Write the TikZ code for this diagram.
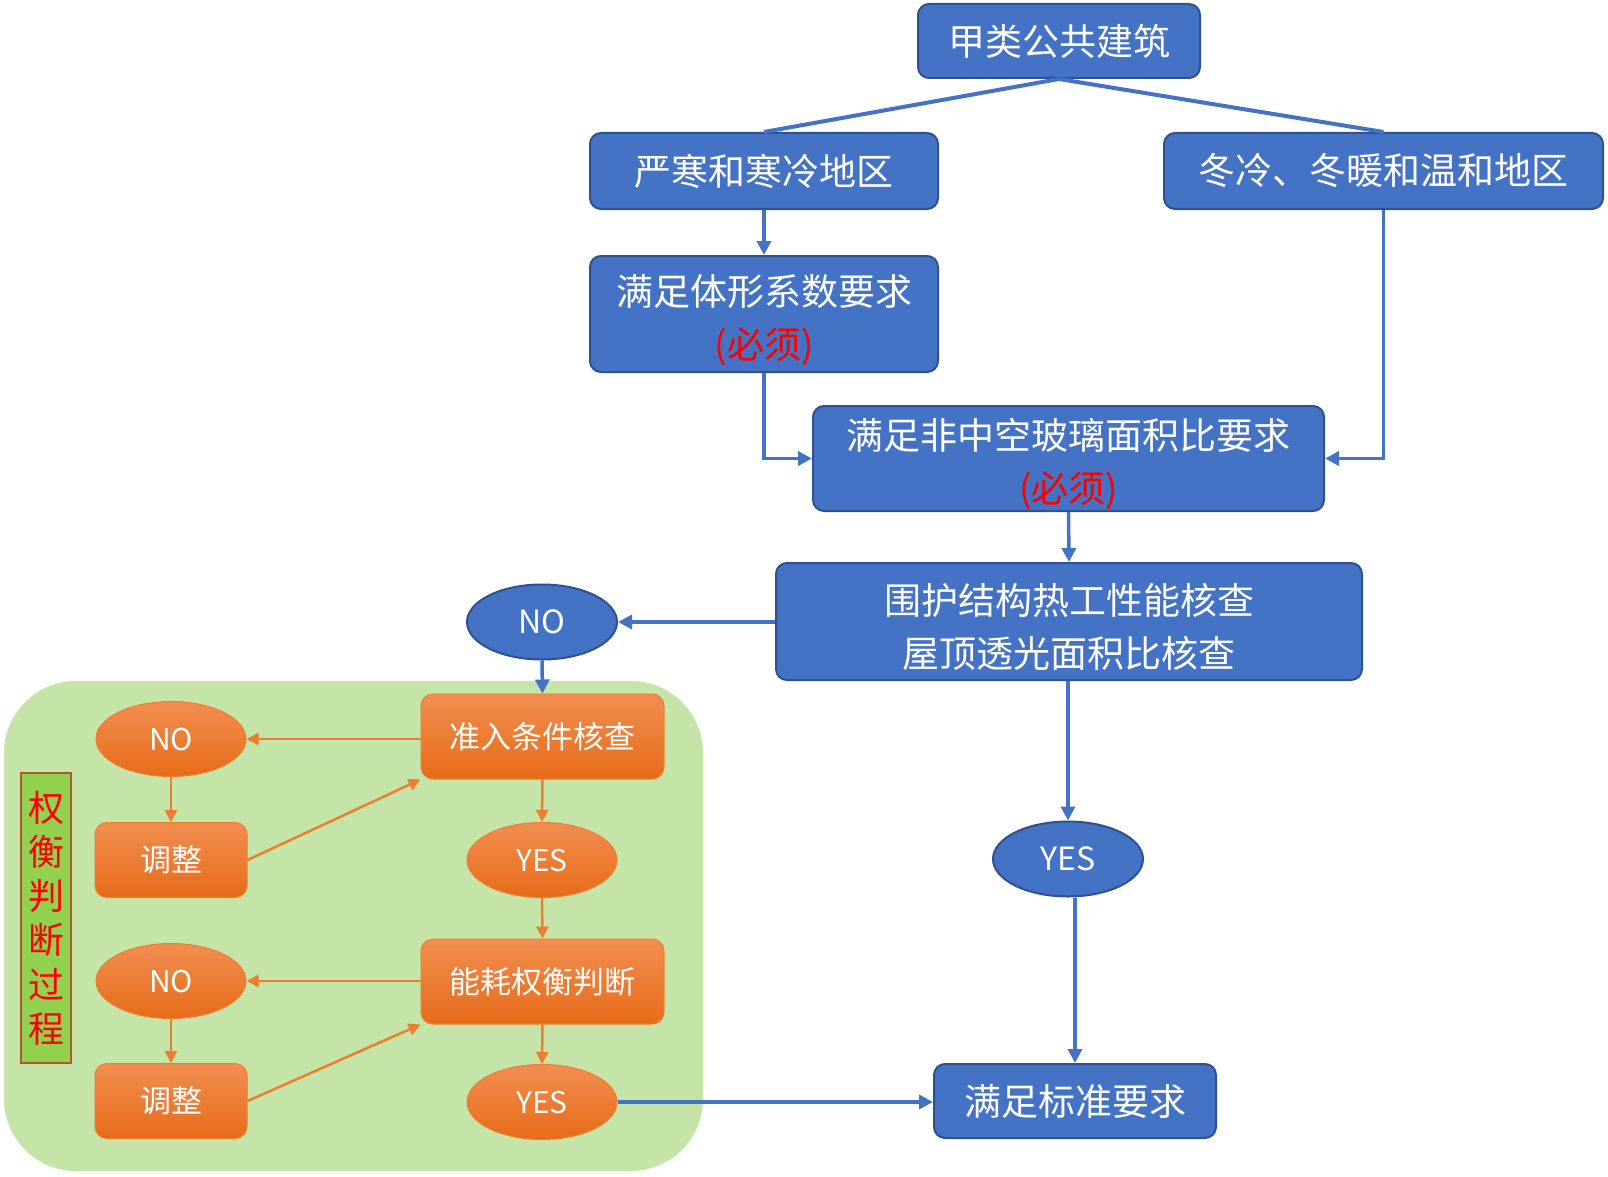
\documentclass[tikz,border=0pt]{standalone}
\usepackage{fontspec}
\setmainfont{Noto Sans CJK SC}
\usetikzlibrary{arrows.meta,shapes.geometric}
\definecolor{blueF}{HTML}{4472C4}
\definecolor{blueB}{HTML}{2F528F}
\definecolor{orTop}{HTML}{F28E50}
\definecolor{orBot}{HTML}{E66B19}
\definecolor{orLine}{HTML}{ED7D31}
\definecolor{greenbg}{HTML}{C5E4A8}
\definecolor{labfill}{HTML}{92D050}
\definecolor{labdraw}{HTML}{B05A2A}
\newcommand{\lowstrut}{\rule{0pt}{43pt}}
\tikzset{
  bluebox/.style={draw=blueB, fill=blueF, rounded corners=11pt, line width=2pt, text=white,
    font=\fontsize{37}{53}\selectfont, inner sep=0pt, align=center},
  blueell/.style={ellipse, draw=blueB, fill=blueF, line width=2pt, text=white,
    font=\fontsize{32}{38}\selectfont, inner sep=0pt, minimum width=150pt, minimum height=75pt},
  orbox/.style={draw=orLine, top color=orTop, bottom color=orBot, rounded corners=12pt, line width=1pt,
    text=white, font=\fontsize{31}{38}\selectfont, inner sep=0pt, align=center},
  orell/.style={ellipse, draw=orLine, top color=orTop, bottom color=orBot, line width=1pt, text=white,
    font=\fontsize{30}{36}\selectfont, inner sep=0pt, minimum width=150pt, minimum height=75pt},
  bline/.style={draw=blueF, line width=4pt},
  barrow/.style={draw=blueF, line width=3.5pt, -{Triangle[length=14pt,width=14pt]}},
  orarrow/.style={draw=orLine, line width=2.5pt, -{Triangle[length=12pt,width=12pt]}},
}
\begin{document}
\begin{tikzpicture}[x=1pt,y=-1pt]
\useasboundingbox (0,0) rectangle (1608,1177);
% green zone
\node[fill=greenbg, rounded corners=72pt, minimum width=699pt, minimum height=490pt, inner sep=0pt] (zone) at (353.5,926) {};
\node[draw=labdraw, fill=labfill, line width=2pt, minimum width=50pt, minimum height=290pt, inner sep=0pt,
  text=red, font=\fontsize{36}{44.2}\selectfont, align=center] (vlab) at (46,918) {权\\衡\\判\\断\\过\\程};

% blue boxes
\node[bluebox, minimum width=282pt, minimum height=74pt] (top) at (1059,41) {甲类公共建筑};
\node[bluebox, minimum width=348pt, minimum height=76pt] (yh) at (764,171) {严寒和寒冷地区};
\node[bluebox, minimum width=439pt, minimum height=76pt] (dl) at (1383.5,171) {冬冷、冬暖和温和地区};
\node[bluebox, minimum width=348pt, minimum height=116pt] (tx) at (764,314) {\lowstrut 满足体形系数要求\\\textcolor{red}{(必须)}};
\node[bluebox, minimum width=511pt, minimum height=105pt] (fz) at (1068.5,458.5) {\lowstrut 满足非中空玻璃面积比要求\\\textcolor{red}{(必须)}};
\node[bluebox, minimum width=586pt, minimum height=117pt] (wh) at (1069,621.5) {\lowstrut 围护结构热工性能核查\\屋顶透光面积比核查};
\node[blueell] (no1) at (542,622) {NO};
\node[blueell] (yes1) at (1068,859) {YES};
\node[bluebox, minimum width=282pt, minimum height=74pt] (bz) at (1075,1101) {满足标准要求};

% orange nodes
\node[orbox, minimum width=243pt, minimum height=85pt] (zr) at (542.5,736.5) {准入条件核查};
\node[orell] (no2) at (171,739) {NO};
\node[orbox, minimum width=152pt, minimum height=75pt] (tz1) at (171,860) {调整};
\node[orell] (yes2) at (542,860) {YES};
\node[orbox, minimum width=243pt, minimum height=85pt] (nh) at (542.5,981.5) {能耗权衡判断};
\node[orell] (no3) at (171,981) {NO};
\node[orbox, minimum width=152pt, minimum height=75pt] (tz2) at (171,1101) {调整};
\node[orell] (yes3) at (542,1102) {YES};

% blue connectors
\draw[bline] (top.south) -- (yh.north);
\draw[bline] (top.south) -- (dl.north);
\draw[barrow] (yh.south) -- (tx.north);
\draw[barrow] (tx.south) |- (fz.west);
\draw[barrow] (dl.south) |- (fz.east);
\draw[barrow] (fz.south) -- (wh.north);
\draw[barrow] (wh.west |- no1.east) -- (no1.east);
\draw[barrow] (no1.south) -- (zr.north);
\draw[barrow] (wh.south -| yes1.north) -- (yes1.north);
\draw[barrow] (yes1.south -| bz.north) -- (bz.north);
\draw[barrow] (yes3.east) -- (bz.west |- yes3.east);

% orange connectors
\draw[orarrow] (zr.west |- no2.east) -- (no2.east);
\draw[orarrow] (no2.south) -- (tz1.north);
\draw[orarrow] (tz1.east) -- (zr.south west);
\draw[orarrow] (zr.south) -- (yes2.north);
\draw[orarrow] (yes2.south) -- (nh.north);
\draw[orarrow] (nh.west |- no3.east) -- (no3.east);
\draw[orarrow] (no3.south) -- (tz2.north);
\draw[orarrow] (tz2.east) -- (nh.south west);
\draw[orarrow] (nh.south) -- (yes3.north);
\end{tikzpicture}
\end{document}
